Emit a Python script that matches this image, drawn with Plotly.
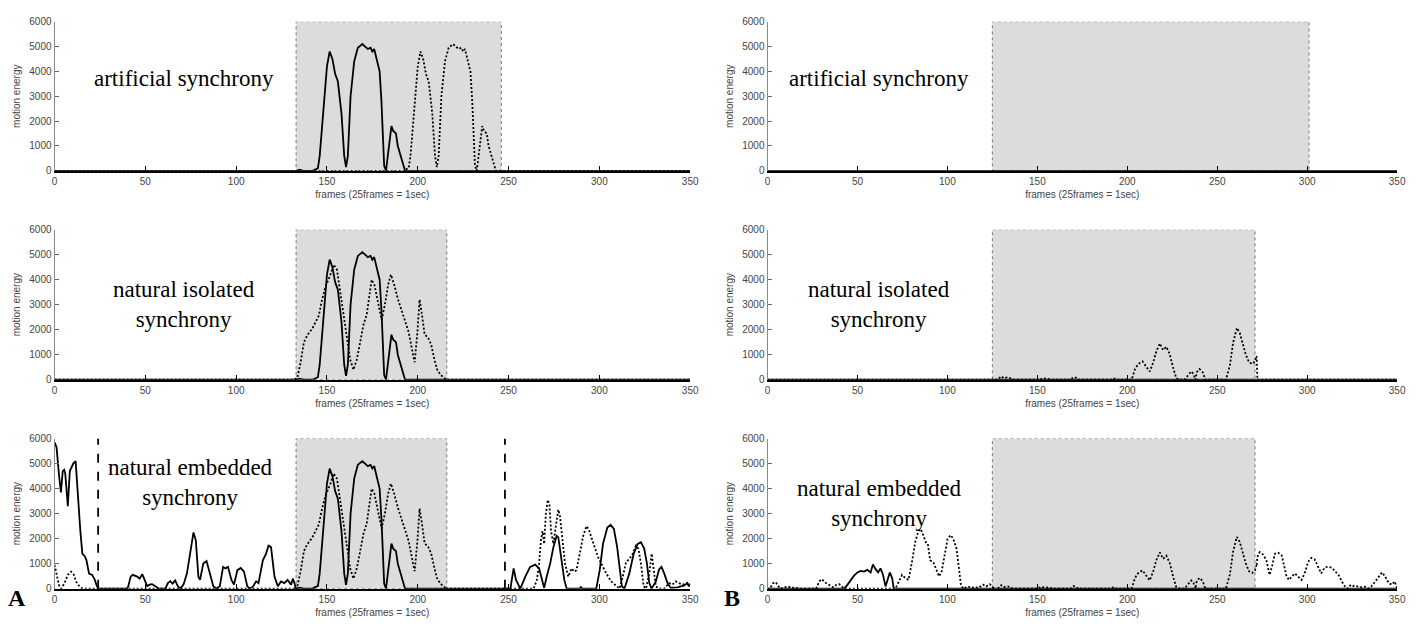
import plotly.graph_objects as go

# ---------------- data (frames, motion energy) ----------------
x_ticks = [0, 50, 100, 150, 200, 250, 300, 350]
y_ticks = [0, 1000, 2000, 3000, 4000, 5000, 6000]

# synchronised movement segment (solid), shared by the three left panels
sync_x = [0, 133, 135, 137, 142, 144, 145, 146, 148, 150, 151.5, 153, 154.5, 156, 158, 159.5, 160.5, 161.5, 163, 165,
          167, 169.5, 171, 172.5, 174, 175, 176, 177.5, 179, 180, 181.5, 182.5, 184, 185.5, 186.5, 188, 189, 190.5, 192, 193, 350]
sync_y = [0, 0, 40, 0, 0, 80, 100, 600, 2600, 4200, 4800, 4500, 3900, 3600, 2300, 600, 150, 600, 3000, 4400,
          4950, 5100, 5000, 4900, 4950, 4800, 4900, 4500, 4000, 2800, 200, 0, 800, 1800, 1600, 1500, 1000, 600, 300, 0, 0]

# artificial partner (dotted), top-left
art_dot_x = [0, 193, 194, 195, 196, 198, 200, 201.5, 203, 204.5, 206, 208, 209.5, 210.5, 211.5, 213, 215, 217, 219.5, 221,
             222.5, 224, 225, 226, 227.5, 229, 230, 231.5, 232.5, 234, 235.5, 236.5, 238, 239, 240.5, 242, 243, 350]
art_dot_y = [0, 0, 80, 100, 600, 2600, 4200, 4800, 4500, 3900, 3600, 2300, 600, 150, 600, 3000, 4400, 4950, 5100, 5000,
             4900, 4950, 4800, 4900, 4500, 4000, 2800, 200, 0, 800, 1800, 1600, 1500, 1000, 600, 300, 0, 0]

# natural partner (dotted), left middle & bottom
nat_dot_x = [0, 132, 133.7, 135.5, 137.3, 139.1, 141.9, 143.7, 145.5, 147.3, 149.1, 151.9, 153.7, 155.5, 157.3, 159.2, 161, 162.8, 164.6, 166.4,
             168.3, 170.1, 171.9, 173.2, 174.6, 176.1, 177.9, 180.1, 181.9, 183.7, 185.2, 187, 189.2, 191, 193.2, 195, 197.4, 198.3, 199.8, 201,
             202.3, 203.8, 205.6, 207.4, 209.2, 210.7, 212.5, 214.3, 215.6, 350]
nat_dot_y = [0, 0, 100, 700, 1500, 1770, 2040, 2300, 2560, 3200, 3700, 4200, 4600, 4400, 3500, 2500, 1600, 800, 400, 800,
             1500, 2200, 2600, 3200, 4000, 3800, 3200, 2400, 3000, 3800, 4200, 3800, 3200, 2800, 2300, 1900, 1000, 700, 1900, 3200,
             2600, 1800, 1700, 1400, 800, 400, 200, 100, 0, 0]

# embedded context, left bottom (solid)
emb_sol_pre_x = [0, 1.1, 2.5, 3.5, 4.5, 5.3, 5.9, 7.3, 8.4, 10.3, 11.6, 12.9, 14.2, 15.3, 16.6, 17.5, 19, 20.7, 22, 23.3,
                 24.4, 40, 40.6, 41.9, 43.1, 45.5, 46.8, 48.3, 49.7, 51, 52.3, 53.7, 55.5, 57.4, 61, 62.4, 63.7, 65, 66.4, 67.9,
                 69.2, 71, 72.9, 74.7, 76.5, 77.8, 79.2, 80.1, 81.9, 83.7, 85.5, 87.4, 89.2, 91, 92.8, 94.1, 95.5, 97.4, 98.8, 100.7,
                 102.5, 104.3, 106.1, 107.4, 109.2, 111, 112.3, 114.7, 116.5, 117.8, 119.2, 121.1, 122.9, 124.7, 126.5, 128.3, 130.2, 131.3, 133]
emb_sol_pre_y = [5850, 5650, 4500, 3850, 4700, 4750, 4600, 3300, 4700, 5000, 5100, 3600, 2300, 1400, 1300, 1150, 600, 550, 380, 100,
                 0, 0, 100, 480, 550, 480, 400, 580, 300, 100, 160, 180, 100, 0, 0, 220, 300, 200, 330, 100,
                 0, 160, 614, 1530, 2250, 1920, 480, 350, 1000, 1100, 600, 100, 0, 100, 870, 810, 870, 350, 160, 740,
                 830, 680, 100, 0, 80, 290, 220, 1130, 1400, 1720, 1660, 480, 100, 290, 220, 350, 160, 400, 0]
emb_sol_post_x = [193, 251, 252.8, 254.1, 256.5, 259.2, 261.9, 264.7, 266.8, 268.3, 269.6, 271, 272.9, 274.7, 276.5, 277.4, 278.9, 280.7, 282, 289,
                  289.8, 290.6, 298.3, 300.2, 302, 304.4, 306.2, 308, 309.8, 311.1, 312.4, 313.8, 316.5, 318.9, 321.1, 322.9, 324.7, 326.2, 327.5, 328.7,
                  331.1, 332.9, 334.2, 335.7, 337.5, 339.3, 343, 344.8, 346.6, 348.4, 349.3, 350]
emb_sol_post_y = [0, 0, 810, 350, 0, 480, 870, 960, 810, 420, 30, 480, 1000, 1660, 2110, 2050, 1260, 350, 0, 0,
                  60, 0, 0, 740, 1790, 2440, 2550, 2390, 1660, 740, 100, 0, 610, 1400, 1790, 1860, 1600, 1000, 220, 0,
                  290, 770, 870, 610, 220, 30, 50, 90, 120, 220, 90, 200]

# embedded context, left bottom (dotted)
emb_dot_pre_x = [0, 0.9, 2.4, 3.6, 5.5, 7.3, 9.1, 10.4, 11.8, 13.7, 15.5, 132]
emb_dot_pre_y = [950, 610, 150, 0, 220, 550, 680, 590, 290, 90, 0, 0]
emb_dot_post_x = [215.6, 263.8, 265.6, 266.8, 267.8, 268.7, 269.6, 270.5, 271.6, 272.5, 273.4, 274.7, 275.9, 277.4, 278.3, 279.6, 281.1, 282.9, 284.7, 286.1,
                  287.4, 289.2, 291.1, 292.9, 294.2, 295.6, 297.4, 299.3, 301.1, 303.8, 306.5, 309.3, 311.1, 312.9, 314.7, 316.5, 318.4, 320.2, 321.5, 322.9,
                  324.4, 325.7, 327.5, 328.8, 329.8, 331.1, 332.9, 335.7, 338.4, 340.2, 342, 343.9, 345.7, 347.5, 349.3]
emb_dot_post_y = [0, 0, 350, 1000, 1920, 2300, 1790, 2960, 3550, 3360, 2300, 1790, 2440, 3160, 2900, 2050, 1000, 480, 810, 680,
                  740, 1400, 2110, 2500, 2370, 2050, 1660, 1260, 1000, 610, 290, 90, 0, 480, 1060, 1190, 1400, 1720, 1600, 1000,
                  90, 0, 610, 1400, 740, 90, 0, 0, 220, 160, 290, 220, 160, 200, 250]

# right column: natural partner (dotted) in the isolated window
riso_x = [0, 128, 129.9, 131.3, 133.2, 135, 136.3, 150, 151, 152, 153, 155, 156, 157.5, 158.5, 168.5, 170, 171.5, 172.5, 191,
          192, 193, 194, 202.4, 204.3, 206.1, 208.5, 210.7, 212.5, 214.4, 216.2, 218.1, 219.9, 221.7, 223.6, 225.4, 227.2, 229.1, 231.8, 233.7,
          235.5, 236.8, 237.9, 238.6, 240.1, 241.9, 243.4, 254.8, 257, 258.8, 260.9, 262.5, 264, 265.8, 267.7, 269.5, 271, 271.9]
riso_y = [0, 0, 140, 60, 90, 60, 0, 0, 50, 20, 60, 40, 50, 20, 0, 0, 100, 80, 0, 0,
          50, 40, 0, 0, 430, 630, 730, 500, 330, 690, 1150, 1450, 1190, 1320, 1020, 500, 60, 0, 0, 170,
          330, 230, 0, 300, 430, 300, 0, 0, 560, 1480, 2070, 1870, 1480, 1020, 690, 630, 730, 950]
iso_tail_x = [272.3, 350]
iso_tail_y = [0, 0]

# right bottom: embedded context
remb_pre_x = [0, 1.3, 3.1, 4.6, 6.1, 7.2, 11.4, 13.2, 15.1, 16.9, 17.8, 27, 28.8, 30.1, 32.5, 34.7, 36.6, 38.4, 39.9, 41.3,
              42.6, 71.1, 72.9, 74.8, 76.6, 78.4, 80.3, 82.1, 83.9, 85.2, 86.7, 88, 89.1, 90.4, 92.2, 94.1, 95.4, 96.8, 98.7, 100.1,
              101.8, 103.3, 105.1, 106.4, 107.5, 108.8, 111.5, 113.4, 115.2, 117.4, 119.8, 121.6, 123.5, 124.8, 126]
remb_pre_y = [0, 0, 220, 260, 90, 0, 90, 30, 40, 30, 0, 0, 290, 380, 220, 130, 50, 160, 180, 90,
              0, 0, 290, 550, 420, 350, 1070, 1860, 2310, 2380, 2120, 1860, 1790, 1140, 1050, 750, 490, 680, 1460, 1990,
              2140, 1990, 1590, 810, 160, 0, 90, 30, 60, 30, 160, 90, 180, 90, 0]
remb_post_x = [271.9, 272.3, 273.6, 275.5, 277.3, 279.1, 280.6, 282.1, 283.9, 285.8, 287.1, 288.3, 289.8, 291.6, 293.1, 295, 296.8, 298.6, 300.5, 302.3,
               304.1, 306, 307.8, 309.6, 311.5, 313.7, 315.5, 317.4, 319.2, 321, 322.5, 324.3, 326.2, 328, 329.9, 331.7, 333.9, 335.7, 337.9, 339.8,
               341.6, 343.4, 345.3, 347.1, 348.6, 349.9]
remb_post_y = [950, 1270, 1460, 1360, 1140, 550, 940, 1400, 1440, 1330, 940, 550, 350, 480, 610, 480, 350, 610, 1070, 1230,
               1180, 880, 610, 840, 880, 840, 680, 550, 290, 90, 0, 160, 90, 90, 50, 90, 0, 90, 290, 480,
               650, 480, 220, 160, 290, 30]
remb_sol_x = [0, 42.6, 44.5, 46.3, 48.1, 50, 51.8, 53.6, 55.5, 57.3, 58.6, 60.1, 61.5, 62.8, 64.1, 65.6, 66.5, 68, 69.3, 70.2, 350]
remb_sol_y = [0, 0, 160, 350, 520, 650, 710, 680, 750, 650, 970, 780, 650, 810, 580, 90, 290, 650, 420, 0, 0]

# window limits (start, end) per panel: TL, TR, ML, MR, BL, BR
windows = [(133, 246), (125, 301), (133, 216), (125, 271), (133, 216), (125, 271)]
boundary_frames = [24, 248]  # dashed markers in bottom-left panel
panel_labels = ["artificial synchrony", "artificial synchrony",
                "natural isolated<br>synchrony", "natural isolated<br>synchrony",
                "natural embedded<br>synchrony", "natural embedded<br>synchrony"]
label_pos = [(71, 3700), (62, 3700), (71, 3000), (62, 3000), (75, 4250), (62, 3400)]

# ---------------- figure ----------------
W, H = 1424, 628
col_dom = [(52 / W, 693 / W), (771 / W, 1406 / W)]
row_dom = [(1 - 168 / H, 1 - 16 / H), (1 - 381 / H, 1 - 228 / H), (1 - 594 / H, 1 - 441 / H)]

fig = go.Figure()
SOLID = dict(color="black", width=1.8)
DOTTED = dict(color="black", width=1.8, dash="2px,2px")


def add(n, x, y, line):
    fig.add_trace(go.Scatter(x=x, y=y, mode="lines", line=line, xaxis=f"x{n}", yaxis=f"y{n}",
                             showlegend=False, hoverinfo="skip"))


# panel 1 (TL)
add(1, art_dot_x, art_dot_y, DOTTED)
add(1, sync_x, sync_y, SOLID)
# panel 2 (TR): flat zero
add(2, [0, 350], [0, 0], SOLID)
# panel 3 (ML)
add(3, nat_dot_x, nat_dot_y, DOTTED)
add(3, sync_x, sync_y, SOLID)
# panel 4 (MR)
add(4, riso_x + iso_tail_x, riso_y + iso_tail_y, DOTTED)
add(4, [0, 350], [0, 0], SOLID)
# panel 5 (BL)
add(5, emb_dot_pre_x, emb_dot_pre_y, DOTTED)
add(5, nat_dot_x[1:-1], nat_dot_y[1:-1], DOTTED)
add(5, emb_dot_post_x, emb_dot_post_y, DOTTED)
add(5, emb_sol_pre_x, emb_sol_pre_y, SOLID)
add(5, sync_x[1:-1], sync_y[1:-1], SOLID)
add(5, emb_sol_post_x, emb_sol_post_y, SOLID)
# panel 6 (BR)
add(6, remb_pre_x, remb_pre_y, DOTTED)
add(6, riso_x[1:], riso_y[1:], DOTTED)
add(6, remb_post_x, remb_post_y, DOTTED)
add(6, remb_sol_x, remb_sol_y, SOLID)

layout = dict(width=W, height=H, margin=dict(l=0, r=0, t=0, b=0),
              paper_bgcolor="white", plot_bgcolor="white", showlegend=False,
              font=dict(family="Liberation Sans, Arial", size=10, color="#333"))
shapes = []
annotations = []
for i in range(6):
    n = i + 1
    r, c = divmod(i, 2)
    layout[f"xaxis{n}"] = dict(domain=col_dom[c], anchor=f"y{n}", range=[0, 350],
                               tickvals=x_ticks, ticktext=[str(v) for v in x_ticks],
                               ticks="inside", ticklen=5, tickwidth=1, tickcolor="black",
                               showline=True, linecolor="black", linewidth=2,
                               showgrid=False, zeroline=False,
                               tickfont=dict(size=10, color="#444"),
                               title=dict(text="frames (25frames = 1sec)", font=dict(size=10, color="#444"), standoff=5))
    layout[f"yaxis{n}"] = dict(domain=row_dom[r], anchor=f"x{n}", range=[0, 6000],
                               tickvals=y_ticks, ticktext=[str(v) for v in y_ticks],
                               ticks="inside", ticklen=4, tickwidth=1, tickcolor="#666",
                               showline=True, linecolor="#888", linewidth=1,
                               showgrid=False, zeroline=False,
                               tickfont=dict(size=10, color="#444"),
                               title=dict(text="motion energy", font=dict(size=10, color="#444"), standoff=6))
    x0, x1 = windows[i]
    shapes.append(dict(type="rect", xref=f"x{n}", yref=f"y{n}", x0=x0, x1=x1, y0=0, y1=6000,
                       fillcolor="#dcdcdc", line=dict(color="#777", width=1, dash="dot"), layer="below"))
    lx, ly = label_pos[i]
    annotations.append(dict(xref=f"x{n}", yref=f"y{n}", x=lx, y=ly, text=panel_labels[i], showarrow=False,
                            xanchor="center", yanchor="middle",
                            font=dict(family="Liberation Serif, Times New Roman", size=23, color="black")))

for bf in boundary_frames:
    shapes.append(dict(type="line", xref="x5", yref="y5", x0=bf, x1=bf, y0=0, y1=6000,
                       line=dict(color="black", width=1.8, dash="dash"), layer="above"))

annotations.append(dict(xref="paper", yref="paper", x=14 / W, y=1 - 604 / H, text="<b>A</b>", showarrow=False,
                        xanchor="center", yanchor="middle",
                        font=dict(family="Liberation Serif, Times New Roman", size=24, color="black")))
annotations.append(dict(xref="paper", yref="paper", x=735 / W, y=1 - 604 / H, text="<b>B</b>", showarrow=False,
                        xanchor="center", yanchor="middle",
                        font=dict(family="Liberation Serif, Times New Roman", size=24, color="black")))

layout["shapes"] = shapes
layout["annotations"] = annotations
fig.update_layout(**layout)
fig.write_html("out.html")
